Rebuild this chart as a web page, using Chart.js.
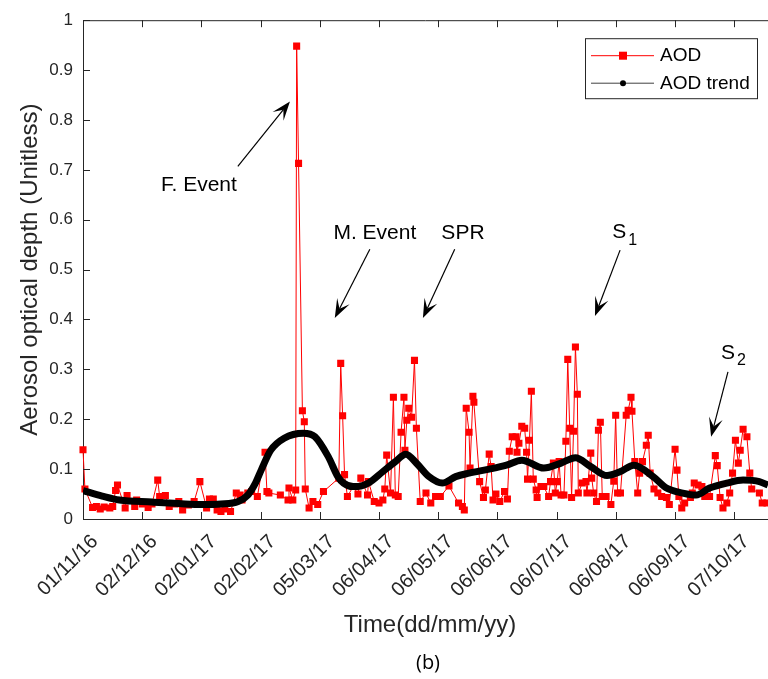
<!DOCTYPE html>
<html>
<head>
<meta charset="utf-8">
<script src="https://cdn.jsdelivr.net/npm/chart.js@4.4.1/dist/chart.umd.min.js"></script>
<style>
  html, body { margin: 0; padding: 0; background: #ffffff; }
  #wrap { position: relative; width: 768px; height: 679px; }
</style>
</head>
<body>
<div id="wrap"><canvas id="c" width="768" height="679"></canvas></div>
<script>
// Date tick labels along the time axis (one every ~30.9 days from 01/11/16)
const xTickLabels = ['01/11/16', '02/12/16', '02/01/17', '02/02/17', '05/03/17', '06/04/17',
                     '06/05/17', '06/06/17', '06/07/17', '06/08/17', '06/09/17', '07/10/17'];
const xTickStepDays = 30.9;
const xMaxDays = 357.5;
const yTickLabels = ['0', '0.1', '0.2', '0.3', '0.4', '0.5', '0.6', '0.7', '0.8', '0.9', '1'];

// Daily AOD retrievals: days since 01/11/16 and optical depth
const aodDays = [0, 1, 5, 7, 9, 11, 14, 15.5, 17, 18, 22, 23, 27, 28, 31, 34, 36, 39, 40, 43,
  45, 48, 50, 52, 55, 58, 61, 64.5, 66, 68, 70, 72, 74, 77, 80, 82, 83, 86, 88, 91,
  95, 96, 97, 103, 107, 107.5, 109.5, 111, 111.5, 112.5, 114.5, 115.5, 116, 118, 120, 122.5, 125.5, 133.5, 134.5, 135.5,
  136.5, 138, 141, 143.5, 145, 148.5, 149, 152, 154.5, 156.5, 157.5, 158.5, 160.5, 162, 163, 164.5, 166, 167.5, 168, 169,
  170, 171.5, 173, 174, 176, 179, 181.5, 184, 186.5, 191, 196, 198, 199, 200, 201.5, 202, 203.5, 204, 207, 209,
  210, 212, 213, 214, 215.5, 217.5, 220, 221.5, 222.5, 224, 226, 226.5, 227.5, 229, 230.5, 231.5, 232, 233, 234, 235,
  236.5, 237, 239, 240.5, 243, 244, 245.5, 246.5, 247.5, 248.5, 249.5, 251, 252, 253, 254, 255, 256, 257, 258, 258.5,
  260.5, 262.5, 263, 265, 265.5, 266.5, 268, 269, 270, 271, 273, 275.5, 277, 278, 279, 280.5, 283.5, 284.5, 286, 286.5,
  288, 289.5, 290.5, 292, 294, 295, 296, 298, 300, 302, 304.5, 306, 309, 310, 311, 312.5, 314, 317, 318, 319,
  321, 323, 324.5, 327, 330, 331, 332.5, 334, 336, 337.5, 339, 340.5, 342, 343, 344.5, 346.5, 348, 349, 353, 354.5, 357];
const aodValues = [0.139, 0.060, 0.023, 0.025, 0.020, 0.024, 0.022, 0.025, 0.057, 0.068, 0.022, 0.047, 0.025, 0.038, 0.030, 0.023, 0.030, 0.078, 0.045, 0.047,
  0.025, 0.030, 0.035, 0.018, 0.028, 0.035, 0.075, 0.022, 0.040, 0.040, 0.018, 0.015, 0.020, 0.015, 0.052, 0.048, 0.038, 0.052, 0.055, 0.045,
  0.134, 0.055, 0.052, 0.048, 0.038, 0.062, 0.038, 0.058, 0.948, 0.713, 0.217, 0.195, 0.060, 0.022, 0.035, 0.029, 0.055, 0.082, 0.312, 0.207,
  0.089, 0.045, 0.065, 0.050, 0.082, 0.048, 0.075, 0.035, 0.032, 0.038, 0.060, 0.128, 0.052, 0.244, 0.048, 0.045, 0.174, 0.244, 0.138, 0.198,
  0.222, 0.204, 0.318, 0.182, 0.035, 0.052, 0.032, 0.045, 0.045, 0.066, 0.032, 0.025, 0.018, 0.222, 0.174, 0.102, 0.246, 0.234, 0.075, 0.043,
  0.058, 0.130, 0.105, 0.038, 0.050, 0.035, 0.055, 0.040, 0.136, 0.165, 0.165, 0.134, 0.152, 0.186, 0.182, 0.134, 0.080, 0.158, 0.256, 0.080,
  0.058, 0.043, 0.065, 0.065, 0.045, 0.075, 0.112, 0.052, 0.075, 0.115, 0.048, 0.048, 0.156, 0.320, 0.182, 0.043, 0.176, 0.345, 0.250, 0.052,
  0.072, 0.075, 0.052, 0.132, 0.082, 0.052, 0.035, 0.178, 0.194, 0.045, 0.045, 0.029, 0.076, 0.208, 0.052, 0.052, 0.208, 0.218, 0.244, 0.216,
  0.115, 0.052, 0.092, 0.115, 0.148, 0.168, 0.092, 0.060, 0.052, 0.045, 0.043, 0.029, 0.140, 0.098, 0.045, 0.022, 0.032, 0.043, 0.052, 0.072,
  0.068, 0.065, 0.045, 0.045, 0.127, 0.107, 0.043, 0.022, 0.032, 0.052, 0.092, 0.158, 0.112, 0.138, 0.180, 0.165, 0.092, 0.060, 0.052, 0.032, 0.032];

// Smoothed AOD trend
const trendDays = [0, 10, 19, 36, 50, 62, 72, 81, 86, 90, 93, 98, 105, 115, 121, 128, 133, 136, 141, 145,
  149, 156.5, 163, 168.5, 174, 180.5, 187.5, 194.5, 201.5, 212, 221, 229, 240.5, 249.5, 257, 265, 273.5, 280.5, 287.5, 297.5,
  304.5, 313, 320, 327, 336, 344.5, 353, 357.5];
const trendValues = [0.057, 0.046, 0.038, 0.034, 0.031, 0.029, 0.030, 0.035, 0.048, 0.072, 0.098, 0.138, 0.162, 0.172, 0.165, 0.125, 0.085, 0.072, 0.065, 0.066,
  0.072, 0.095, 0.115, 0.130, 0.112, 0.085, 0.072, 0.085, 0.092, 0.100, 0.108, 0.118, 0.102, 0.112, 0.123, 0.105, 0.087, 0.095, 0.108, 0.085,
  0.062, 0.052, 0.048, 0.062, 0.072, 0.078, 0.075, 0.068];

const seriesNames = ['AOD', 'AOD trend'];

// Event call-outs: label, optional subscript, label anchor and arrow (tail -> head), all in data units
const callouts = [
  { text: 'F. Event', sub: '',  at: [60.5, 0.669],  tail: [80.8, 0.707],  head: [108, 0.837] },
  { text: 'M. Event', sub: '',  at: [152.3, 0.573], tail: [149.7, 0.541], head: [131.4, 0.403] },
  { text: 'SPR',      sub: '',  at: [198.3, 0.573], tail: [194, 0.541],   head: [177.4, 0.403] },
  { text: 'S',        sub: '1', at: [282.2, 0.575], tail: [280.3, 0.539], head: [267.2, 0.407] },
  { text: 'S',        sub: '2', at: [339, 0.333],   tail: [336.6, 0.295], head: [327.8, 0.165] }
];

const AXIS = '#262626';
const FONT = '"Liberation Sans", Arial, Helvetica, sans-serif';

function drawArrow(ctx, x0, y0, x1, y1) {
  const dx = x1 - x0, dy = y1 - y0;
  const len = Math.hypot(dx, dy);
  const ux = dx / len, uy = dy / len;
  const nx = -uy, ny = ux;
  const L = 19, W = 7, notch = 0.55;
  ctx.save();
  ctx.strokeStyle = '#000';
  ctx.fillStyle = '#000';
  ctx.lineWidth = 1.2;
  ctx.beginPath();
  ctx.moveTo(x0, y0);
  ctx.lineTo(x1 - ux * L * notch, y1 - uy * L * notch);
  ctx.stroke();
  ctx.beginPath();
  ctx.moveTo(x1, y1);
  ctx.lineTo(x1 - ux * L + nx * W, y1 - uy * L + ny * W);
  ctx.lineTo(x1 - ux * L * notch, y1 - uy * L * notch);
  ctx.lineTo(x1 - ux * L - nx * W, y1 - uy * L - ny * W);
  ctx.closePath();
  ctx.fill();
  ctx.restore();
}

const framePlugin = {
  id: 'frame',
  afterDatasetsDraw(chart) {
    const { ctx, chartArea: a, scales: { x, y } } = chart;
    ctx.save();
    ctx.strokeStyle = AXIS;
    ctx.lineWidth = 1;
    // top edge of the box
    ctx.beginPath();
    ctx.moveTo(a.left, a.top + 0.5);
    ctx.lineTo(a.right, a.top + 0.5);
    ctx.stroke();
    // inward tick marks
    const tl = 7;
    ctx.beginPath();
    x.ticks.forEach(t => {
      const px = Math.round(x.getPixelForValue(t.value)) + 0.5;
      ctx.moveTo(px, a.bottom); ctx.lineTo(px, a.bottom - tl);
      ctx.moveTo(px, a.top); ctx.lineTo(px, a.top + tl);
    });
    y.ticks.forEach(t => {
      const py = Math.round(y.getPixelForValue(t.value)) + 0.5;
      ctx.moveTo(a.left, py); ctx.lineTo(a.left + tl, py);
    });
    ctx.stroke();
    ctx.restore();
  },
  afterDraw(chart) {
    const { ctx, chartArea: a, scales: { x, y } } = chart;
    ctx.save();
    // call-outs
    ctx.fillStyle = '#000';
    callouts.forEach(c => {
      const tx = x.getPixelForValue(c.at[0]), ty = y.getPixelForValue(c.at[1]);
      ctx.font = '21px ' + FONT;
      ctx.textBaseline = 'middle';
      if (c.sub) {
        const w = ctx.measureText(c.text).width;
        ctx.font = '16px ' + FONT;
        const ws = ctx.measureText(c.sub).width;
        const x0 = tx - (w + ws) / 2;
        ctx.font = '21px ' + FONT;
        ctx.textAlign = 'left';
        ctx.fillText(c.text, x0, ty);
        ctx.font = '16px ' + FONT;
        ctx.fillText(c.sub, x0 + w + 2, ty + 8);
      } else {
        ctx.textAlign = 'center';
        ctx.fillText(c.text, tx, ty);
      }
      drawArrow(ctx, x.getPixelForValue(c.tail[0]), y.getPixelForValue(c.tail[1]),
                x.getPixelForValue(c.head[0]), y.getPixelForValue(c.head[1]));
    });

    // legend box
    const bx = a.right - 183, by = a.top + 18, bw = 172, bh = 60;
    ctx.fillStyle = '#fff';
    ctx.fillRect(bx, by, bw, bh);
    ctx.strokeStyle = AXIS;
    ctx.lineWidth = 1;
    ctx.strokeRect(bx + 0.5, by + 0.5, bw, bh);
    const r1 = by + 17, r2 = by + 44.5;
    ctx.strokeStyle = '#ff0000';
    ctx.beginPath(); ctx.moveTo(bx + 6, r1 + 0.5); ctx.lineTo(bx + 69, r1 + 0.5); ctx.stroke();
    ctx.fillStyle = '#ff0000';
    ctx.fillRect(bx + 34, r1 - 3.5, 8, 8);
    ctx.strokeStyle = '#404040';
    ctx.beginPath(); ctx.moveTo(bx + 6, r2 + 0.5); ctx.lineTo(bx + 69, r2 + 0.5); ctx.stroke();
    ctx.fillStyle = '#000';
    ctx.beginPath(); ctx.arc(bx + 38, r2 + 0.5, 3, 0, Math.PI * 2); ctx.fill();
    ctx.fillStyle = '#000';
    ctx.font = '19px ' + FONT;
    ctx.textAlign = 'left';
    ctx.textBaseline = 'middle';
    ctx.fillText(seriesNames[0], bx + 75, r1 + 1);
    ctx.fillText(seriesNames[1], bx + 75, r2 + 1);

    // axis titles and panel tag
    ctx.fillStyle = AXIS;
    ctx.font = '24px ' + FONT;
    ctx.textAlign = 'center';
    ctx.textBaseline = 'middle';
    ctx.fillText('Time(dd/mm/yy)', 430, a.bottom + 106);
    ctx.save();
    ctx.translate(30, (a.top + a.bottom) / 2);
    ctx.rotate(-Math.PI / 2);
    ctx.fillText('Aerosol optical depth (Unitless)', 0, 0);
    ctx.restore();
    ctx.font = '20px "Open Sans", "Noto Sans", sans-serif';
    ctx.fillStyle = '#000';
    ctx.fillText('(b)', 428, a.bottom + 144);
    ctx.restore();
  }
};

new Chart(document.getElementById('c'), {
  type: 'line',
  data: {
    datasets: [
      {
        label: seriesNames[1],
        data: trendDays.map((d, i) => ({ x: d, y: trendValues[i] })),
        borderColor: '#000000',
        backgroundColor: '#000000',
        borderWidth: 7,
        pointRadius: 0,
        cubicInterpolationMode: 'monotone',
        order: 0
      },
      {
        label: seriesNames[0],
        data: aodDays.map((d, i) => ({ x: d, y: aodValues[i] })),
        borderColor: '#ff0000',
        backgroundColor: '#ff0000',
        borderWidth: 1,
        pointStyle: 'rect',
        pointRadius: 5,
        pointBorderWidth: 0,
        pointBackgroundColor: '#ff0000',
        tension: 0,
        clip: 8,
        order: 1
      }
    ]
  },
  options: {
    responsive: false,
    animation: false,
    devicePixelRatio: 1,
    layout: { autoPadding: false, padding: { top: 19, right: 0, bottom: 0, left: 0 } },
    plugins: { legend: { display: false }, tooltip: { enabled: false } },
    scales: {
      x: {
        type: 'linear',
        min: 0,
        max: xMaxDays,
        grid: { display: false, drawTicks: false },
        border: { display: true, color: AXIS, width: 1 },
        afterBuildTicks: s => { s.ticks = xTickLabels.map((_, i) => ({ value: i * xTickStepDays })); },
        afterFit: s => { s.height = 160; s.paddingLeft = 0; s.paddingRight = 0; },
        ticks: {
          autoSkip: false,
          minRotation: 45,
          maxRotation: 45,
          padding: 11,
          labelOffset: 12,
          color: AXIS,
          font: { family: FONT, size: 20 },
          callback: (v, i) => xTickLabels[i]
        }
      },
      y: {
        type: 'linear',
        min: 0,
        max: 1,
        grid: { display: false, drawTicks: false },
        border: { display: true, color: AXIS, width: 1 },
        afterBuildTicks: s => { s.ticks = yTickLabels.map((_, i) => ({ value: i / 10 })); },
        afterFit: s => { s.width = 83; },
        ticks: {
          autoSkip: false,
          padding: 10,
          color: AXIS,
          font: { family: FONT, size: 17 },
          callback: (v, i) => yTickLabels[i]
        }
      }
    }
  },
  plugins: [framePlugin]
});
</script>
</body>
</html>
